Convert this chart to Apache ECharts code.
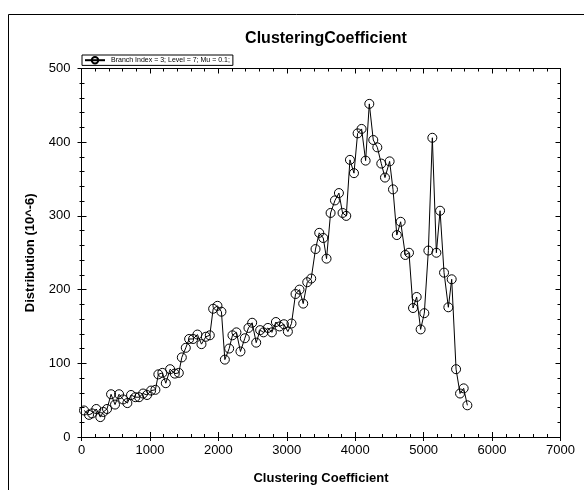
<!DOCTYPE html>
<html>
<head>
<meta charset="utf-8">
<script src="https://cdn.jsdelivr.net/npm/echarts@6/dist/echarts.min.js"></script>
<style>html,body{margin:0;padding:0;background:#fff}#c{width:584px;height:490px}</style>
</head>
<body>
<div id="c"></div>
<script>
var titleText = "ClusteringCoefficient";
var seriesName = "Branch Index = 3; Level = 7; Mu = 0.1;";
var xName = "Clustering Coefficient";
var yName = "Distribution (10^-6)";
var xValues = [37,110,154,216,275,319,373,432,490,549,607,670,724,787,841,900,958,1017,1080,1123,
  1182,1232,1295,1363,1422,1466,1524,1573,1631,1694,1753,1817,1875,1924,1987,2045,2095,2158,2206,2264,
  2323,2387,2440,2494,2553,2611,2659,2724,2782,2841,2894,2958,3016,3069,3128,3186,3240,3299,3357,3420,
  3474,3533,3581,3640,3704,3762,3815,3869,3923,3982,4035,4093,4152,4206,4264,4323,4381,4435,4503,4552,
  4608,4664,4732,4786,4845,4898,4956,5010,5069,5127,5186,5240,5298,5361,5410,5474,5532,5585,5639];
var yValues = [36,30,32,38,27,34,38,58,44,58,51,46,57,54,54,59,57,63,64,85,
  87,73,92,86,87,108,121,133,133,139,126,136,138,174,178,170,105,120,138,142,
  116,134,148,155,128,145,142,148,142,156,150,153,143,154,194,200,181,210,215,255,
  277,270,242,304,321,331,304,300,376,358,412,418,375,452,403,393,371,352,374,336,
  274,292,247,250,175,190,146,168,253,406,250,307,223,176,214,92,59,66,43];

var data = xValues.map(function(x,i){return [x, yValues[i]];});
var chart = echarts.init(document.getElementById('c'), null, {renderer:'canvas'});
var font = "Liberation Sans, Arial, sans-serif";
var gridBox = {left:81.5, right:23.5, top:68.5, bottom:52.5};
function plain(v){return String(v);}
function axisBase(extra){
  var o = {
    axisLine:{show:true, onZero:false, lineStyle:{color:'#000', width:1}},
    splitLine:{show:false},
    minorSplitLine:{show:false}
  };
  for (var k in extra) o[k]=extra[k];
  return o;
}
chart.setOption({
  animation:false,
  backgroundColor:'#fff',
  textStyle:{fontFamily:font},
  title:{text:titleText, left:321, top:26, textAlign:'center',
    textStyle:{fontFamily:font, fontSize:16, fontWeight:'bold', color:'#000'}},
  legend:{left:82, top:55, padding:[1,3,1,2], itemGap:0, itemWidth:20, itemHeight:8,
    borderColor:'#000', borderWidth:1, borderRadius:0,
    textStyle:{fontFamily:font, fontSize:7, color:'#000', padding:[0,0,0,1]},
    data:[seriesName]},
  graphic:[{type:'rect', shape:{x:8.5, y:14.5, width:600, height:500}, style:{fill:null, stroke:'#000', lineWidth:1}, silent:true, z:-10}],
  grid:gridBox,
  xAxis:[
    axisBase({type:'value', min:0, max:7000, interval:1000, position:'bottom',
      axisTick:{show:true, inside:true, length:5, lineStyle:{color:'#000'}},
      minorTick:{show:true, splitNumber:5, length:3, lineStyle:{color:'#000'}},
      axisLabel:{show:true, margin:7, fontSize:13, color:'#000', fontFamily:font, formatter:plain},
      name:xName, nameLocation:'middle', nameGap:35,
      nameTextStyle:{fontFamily:font, fontSize:13, fontWeight:'bold', color:'#000'}}),
    axisBase({type:'value', min:0, max:7000, interval:1000, position:'bottom',
      axisTick:{show:true, inside:false, length:4, lineStyle:{color:'#000'}},
      minorTick:{show:false}, axisLabel:{show:false}}),
    axisBase({type:'value', min:0, max:7000, interval:1000, position:'top',
      axisTick:{show:true, inside:true, length:5, lineStyle:{color:'#000'}},
      minorTick:{show:true, splitNumber:5, length:3, lineStyle:{color:'#000'}},
      axisLabel:{show:false}})
  ],
  yAxis:[
    axisBase({type:'value', min:0, max:500, interval:100, position:'left',
      axisTick:{show:true, inside:true, length:5, lineStyle:{color:'#000'}},
      minorTick:{show:true, splitNumber:5, length:3, lineStyle:{color:'#000'}},
      axisLabel:{show:true, margin:11, fontSize:13, color:'#000', fontFamily:font, formatter:plain},
      name:yName, nameLocation:'middle', nameGap:45,
      nameTextStyle:{fontFamily:font, fontSize:13, fontWeight:'bold', color:'#000'}}),
    axisBase({type:'value', min:0, max:500, interval:100, position:'left',
      axisTick:{show:true, inside:false, length:4, lineStyle:{color:'#000'}},
      minorTick:{show:true, splitNumber:5, length:2, lineStyle:{color:'#000'}},
      axisLabel:{show:false}}),
    axisBase({type:'value', min:0, max:500, interval:100, position:'right',
      axisTick:{show:true, inside:true, length:5, lineStyle:{color:'#000'}},
      minorTick:{show:true, splitNumber:5, length:3, lineStyle:{color:'#000'}},
      axisLabel:{show:false}})
  ],
  series:[{
    name:seriesName, type:'line', data:data, xAxisIndex:0, yAxisIndex:0,
    symbol:'circle', symbolSize:9, showSymbol:true,
    lineStyle:{color:'#000', width:1},
    itemStyle:{color:'rgba(255,255,255,0)', borderColor:'#000', borderWidth:1},
    z:3
  }]
});
</script>
</body>
</html>
